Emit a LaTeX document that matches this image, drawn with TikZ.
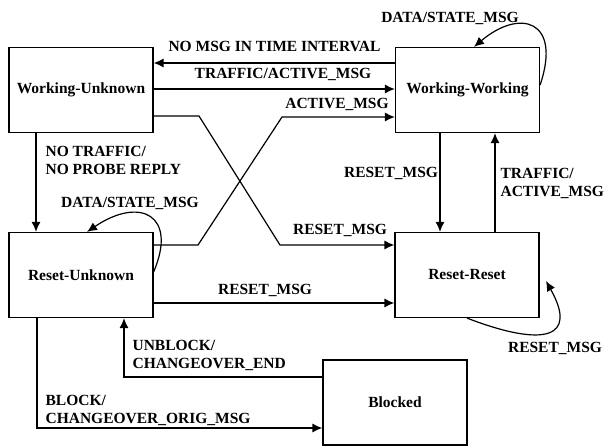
\documentclass[tikz,border=0pt]{standalone}
\usepackage{fontspec}
\setmainfont{Liberation Serif}
\usetikzlibrary{arrows.meta,calc}

\begin{document}
\begin{tikzpicture}
	[
	 x = 1pt,
	 y = -1pt,
	 line width = 1.2pt,
	 every node/.style = {font=\bfseries\fontsize{15.5}{18}\selectfont,
	                      inner sep = 0pt
	                     },
	 state/.style = {shape=rectangle,
	                 draw,
	                 align=center,
	                 minimum width = 144pt,
	                 minimum height = 85pt
	                },
	 tr/.style = {-{Latex[length=10pt,width=9pt]}},
	 lbl/.style = {align=left}
	]

	\newcommand{\NTNP}{NO TRAFFIC/\\NO PROBE REPLY}
	\newcommand{\TAM}{TRAFFIC/\\ACTIVE\_MSG}
	\newcommand{\UBC}{UNBLOCK/\\CHANGEOVER\_END}
	\newcommand{\BCO}{BLOCK/\\CHANGEOVER\_ORIG\_MSG}

	\useasboundingbox (0,0) rectangle (607,446);

	% states
	\node [state] (WU) at (81,90)    {Working-Unknown};
	\node [state] (WW) at (467.5,90) {Working-Working};
	\node [state] (RU) at (81,275)   {Reset-Unknown};
	\node [state] (RR) at (467,275)  {Reset-Reset};
	\node [state] (BL) at (395,402.5) {Blocked};

	% transitions
	\draw [tr] (WW.west |- 0,63) -- (WU.east |- 0,63);
	\draw [tr] (WU.east |- 0,89) -- (WW.west |- 0,89);
	\draw [tr] (RU.east |- 0,245) -- (198,245) -- (282,117) -- (WW.west |- 0,117);
	\draw [tr] (WU.east |- 0,116) -- (199,116) -- (280,245) -- (RR.west |- 0,245);
	\draw [tr] (RU.east |- 0,303) -- (RR.west |- 0,303);
	\draw [tr] (WU.south -| 36,0) -- (RU.north -| 36,0);
	\draw [tr] (WW.south -| 440,0) -- (RR.north -| 440,0);
	\draw [tr] (RR.north -| 495,0) -- (WW.south -| 495,0);
	\draw [tr] (RU.south -| 37,0) -- (37,428) -- (BL.west |- 0,428);
	\draw [tr] (BL.west |- 0,377) -- (124,377) -- (RU.south -| 124,0);

	% self loops
	\draw [tr] (WW.east |- 0,85) .. controls (562,20) and (520,8) .. (WW.north -| 474,0);
	\draw [tr] (RU.east |- 0,272) .. controls (178,215) and (140,196) .. (RU.north -| 87,0);
	\draw [tr] (RR.south -| 467,0) .. controls (545,348) and (578,338) .. (546,281);

	% labels
	\node (l1) at (274.5,46) {NO MSG IN TIME INTERVAL};
	\node (l2) at (283,74)   {TRAFFIC/ACTIVE\_MSG};
	\node (l3) at (337,104)  {ACTIVE\_MSG};
	\node [lbl, anchor=west] (l4) at (45,160) {\NTNP};
	\node (l5) at (130,203)  {DATA/STATE\_MSG};
	\node (l6) at (450,18)   {DATA/STATE\_MSG};
	\node (l7) at (340,230)  {RESET\_MSG};
	\node (l8) at (265,290)  {RESET\_MSG};
	\node (l9) at (391,173)  {RESET\_MSG};
	\node [lbl, anchor=west] (l10) at (500,183) {\TAM};
	\node (l11) at (555,348) {RESET\_MSG};
	\node [lbl, anchor=west] (l12) at (132,355) {\UBC};
	\node [lbl, anchor=west] (l13) at (45,410)  {\BCO};
\end{tikzpicture}
\end{document}
